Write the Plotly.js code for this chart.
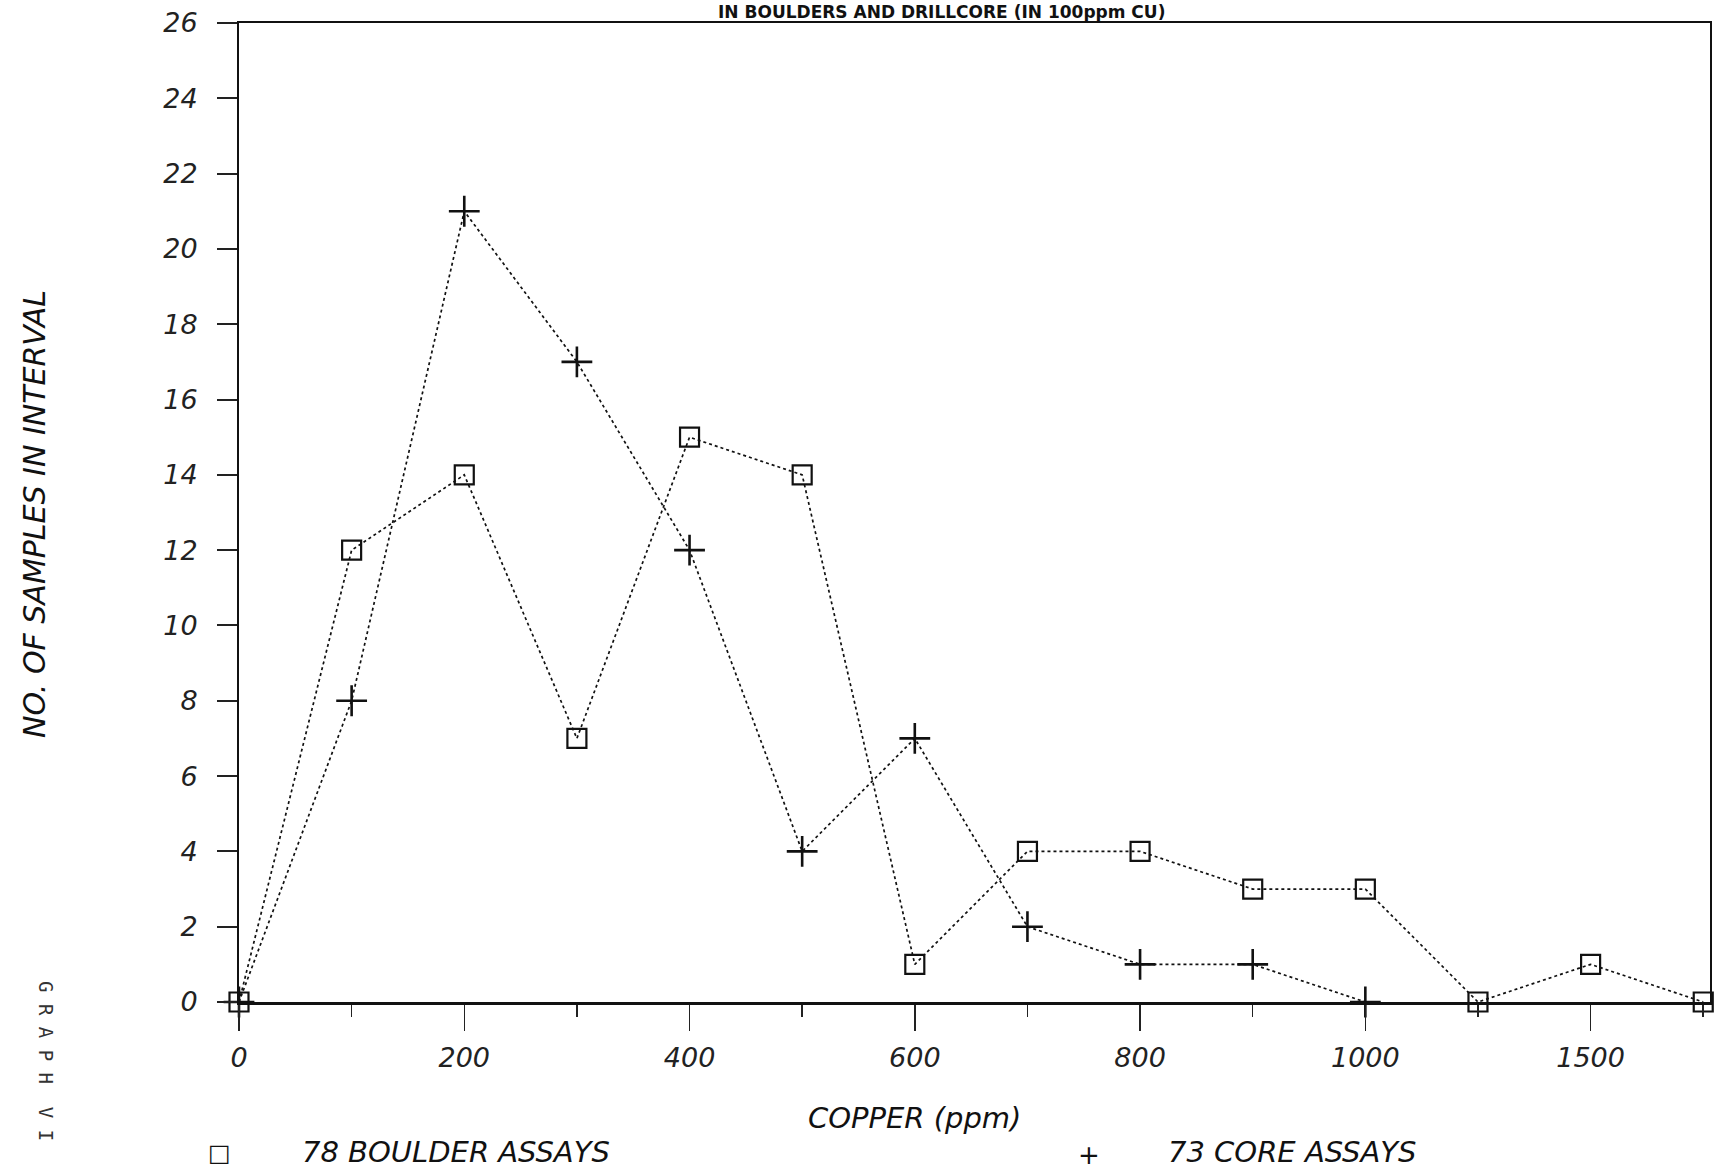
<!DOCTYPE html>
<html>
<head>
<meta charset="utf-8">
<script src="https://cdn.plot.ly/plotly-3.0.1.min.js"></script>
<style>
  html, body { margin: 0; padding: 0; background: #ffffff; }
  #chart { width: 1716px; height: 1170px; }
</style>
</head>
<body>
<div id="chart"></div>
<script>
// Copper intervals (ppm), one per plotted position
const intervals = ["0", "100", "200", "300", "400", "500", "600", "700", "800", "900", "1000", "1250", "1500", "1750"];
// Labelled intervals on the x axis
const labelledIntervals = ["0", "200", "400", "600", "800", "1000", "1500"];
// Number of samples in each interval
const boulderCounts = [0, 12, 14, 7, 15, 14, 1, 4, 4, 3, 3, 0, 1, 0];
const coreCounts = [0, 8, 21, 17, 12, 4, 7, 2, 1, 1, 0];
const boulderName = "78 BOULDER ASSAYS";
const coreName = "73 CORE ASSAYS";
const yTicks = [0, 2, 4, 6, 8, 10, 12, 14, 16, 18, 20, 22, 24, 26];
const titleText = "IN BOULDERS AND DRILLCORE (IN 100ppm CU)";
const xTitle = "COPPER (ppm)";
const yTitle = "NO. OF SAMPLES IN INTERVAL";
const sideNote = "G R A P H  V I";

const pos = intervals.map((c, i) => i);
const boulderX = boulderCounts.map((v, i) => pos[i]);
const coreX = coreCounts.map((v, i) => pos[i]);
const tickPos = labelledIntervals.map(l => intervals.indexOf(l));

// layout geometry (pixels)
const W = 1716, H = 1170;
const M = { l: 239, r: 6, t: 23, b: 168 };
const pw = W - M.l - M.r, ph = H - M.t - M.b;
const px = x => (x - M.l) / pw;
const py = y => (H - M.b - y) / ph;

const FONT = "DejaVu Sans, Liberation Sans, sans-serif";

const traces = [
  {
    x: boulderX, y: boulderCounts, name: boulderName, type: "scatter", mode: "lines+markers",
    line: { color: "#111", width: 1.7, dash: "dot" },
    marker: { symbol: "square-open", size: 19, color: "#111", line: { width: 2.2, color: "#111" } },
    cliponaxis: false, showlegend: false
  },
  {
    x: coreX, y: coreCounts, name: coreName, type: "scatter", mode: "lines+markers",
    line: { color: "#111", width: 1.7, dash: "dot" },
    marker: { symbol: "cross-thin-open", size: 22, color: "#111", line: { width: 2.6, color: "#111" } },
    cliponaxis: false, showlegend: false
  }
];

const tickFont = { family: FONT, size: 27, color: "#222", style: "italic" };

const layout = {
  width: W, height: H,
  margin: M,
  paper_bgcolor: "#fff", plot_bgcolor: "#fff",
  showlegend: false,
  xaxis: {
    range: [0, 13.06],
    tickmode: "array", tickvals: tickPos, ticktext: labelledIntervals,
    ticks: "outside", ticklen: 26, tickwidth: 1.5, tickcolor: "#222",
    minor: { dtick: 1, tick0: 0, ticks: "outside", ticklen: 12, tickwidth: 1.5, tickcolor: "#222", showgrid: false },
    showgrid: false, zeroline: false,
    showline: true, linecolor: "#111", linewidth: 2.5, mirror: true,
    tickfont: tickFont, ticklabelstandoff: 4
  },
  yaxis: {
    range: [0, 26],
    tickmode: "array", tickvals: yTicks, ticktext: yTicks.map(String),
    ticks: "outside", ticklen: 20, tickwidth: 2, tickcolor: "#222",
    showgrid: false, zeroline: false,
    showline: true, linecolor: "#111", linewidth: 2, mirror: true,
    tickfont: tickFont, ticklabelstandoff: 14
  },
  annotations: [
    { text: titleText, xref: "paper", yref: "paper", x: px(941), y: py(12), xanchor: "center", yanchor: "middle",
      showarrow: false, font: { family: FONT, size: 17, color: "#111", weight: "bold" } },
    { text: xTitle, xref: "paper", yref: "paper", x: px(914), y: py(1118), xanchor: "center", yanchor: "middle",
      showarrow: false, font: { family: FONT, size: 29, color: "#111", style: "italic" } },
    { text: yTitle, xref: "paper", yref: "paper", x: px(34), y: py(514), xanchor: "center", yanchor: "middle",
      textangle: -90, showarrow: false, font: { family: FONT, size: 30, color: "#111", style: "italic" } },
    { text: sideNote, xref: "paper", yref: "paper", x: px(46), y: py(1061), xanchor: "center", yanchor: "middle",
      textangle: 90, showarrow: false, font: { family: "DejaVu Sans Mono, monospace", size: 19, color: "#333" } },
    { text: "□", xref: "paper", yref: "paper", x: px(219), y: py(1153), xanchor: "center", yanchor: "middle",
      showarrow: false, font: { family: FONT, size: 24, color: "#111" } },
    { text: boulderName, xref: "paper", yref: "paper", x: px(300), y: py(1152), xanchor: "left", yanchor: "middle",
      showarrow: false, font: { family: FONT, size: 29, color: "#111", style: "italic" } },
    { text: "+", xref: "paper", yref: "paper", x: px(1089), y: py(1155), xanchor: "center", yanchor: "middle",
      showarrow: false, font: { family: FONT, size: 26, color: "#111" } },
    { text: coreName, xref: "paper", yref: "paper", x: px(1166), y: py(1152), xanchor: "left", yanchor: "middle",
      showarrow: false, font: { family: FONT, size: 29, color: "#111", style: "italic" } }
  ]
};

Plotly.newPlot("chart", traces, layout, { displayModeBar: false, staticPlot: true });
</script>
</body>
</html>
